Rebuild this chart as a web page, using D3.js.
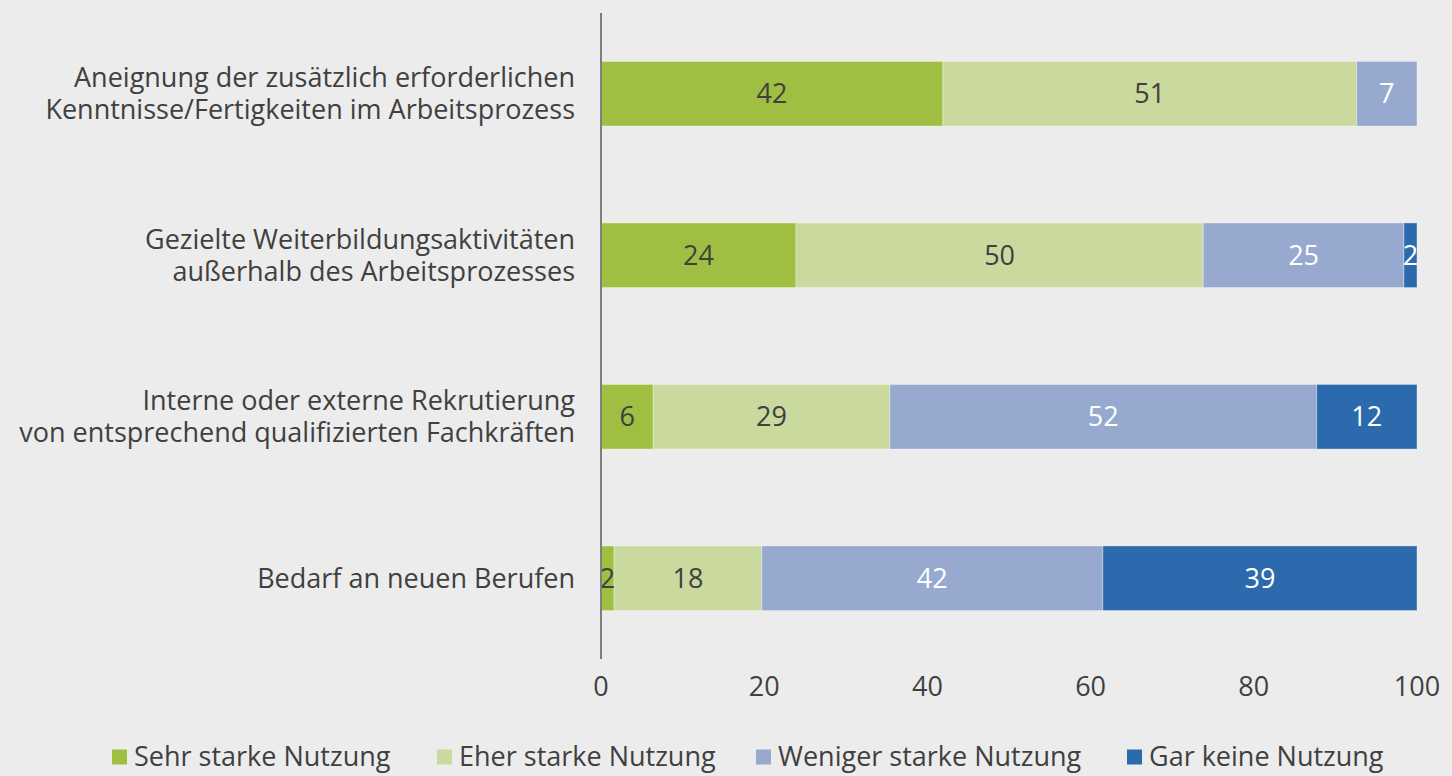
<!DOCTYPE html>
<html>
<head>
<meta charset="utf-8">
<script src="https://cdn.jsdelivr.net/npm/d3@7"></script>
<style>
  body { margin: 0; background: #ececec; }
  svg { display: block; font-family: "Open Sans", sans-serif; }
</style>
</head>
<body>
<script>
// categories (two lines each)
const categories = [
    ["Aneignung der zusätzlich erforderlichen", "Kenntnisse/Fertigkeiten im Arbeitsprozess"],
    ["Gezielte Weiterbildungsaktivitäten", "außerhalb des Arbeitsprozesses"],
    ["Interne oder externe Rekrutierung", "von entsprechend qualifizierten Fachkräften"],
    ["Bedarf an neuen Berufen"]
];

const seriesNames = ["Sehr starke Nutzung", "Eher starke Nutzung", "Weniger starke Nutzung", "Gar keine Nutzung"];
const seriesColors = ["#9fbf43", "#cad99d", "#97a9cf", "#2b6aad"];
const labelColors = ["#404040", "#404040", "#ffffff", "#ffffff"];

// values per series, one entry per category
const sehrStark   = [41.9, 23.9, 6.4, 1.6];
const eherStark   = [50.7, 49.9, 29.0, 18.1];
const wenigerStark = [7.4, 24.6, 52.3, 41.8];
const garKeine    = [0, 1.6, 12.3, 38.5];
const seriesValues = [sehrStark, eherStark, wenigerStark, garKeine];

const xTicks = [0, 20, 40, 60, 80, 100];

const width = 1452, height = 776;

const svg = d3.select("body").append("svg")
    .attr("width", width)
    .attr("height", height);

svg.append("rect").attr("width", width).attr("height", height).attr("fill", "#ececec");

const x = d3.scaleLinear().domain([0, 100]).range([601, 1417]);
const y = d3.scaleBand().domain(d3.range(categories.length)).range([13, 659]).paddingInner(0.6).paddingOuter(0.3);

// stacked rows
const rows = categories.map((c, i) => {
    const r = { idx: i };
    seriesNames.forEach((s, j) => r[s] = seriesValues[j][i]);
    return r;
});
const stack = d3.stack().keys(seriesNames)(rows);

const layers = svg.append("g")
    .selectAll("g")
    .data(stack)
    .join("g")
    .attr("fill", (d, i) => seriesColors[i]);

layers.selectAll("rect")
    .data(d => d.filter(p => p[1] - p[0] > 0))
    .join("rect")
    .attr("x", d => x(d[0]))
    .attr("y", d => y(d.data.idx))
    .attr("width", d => x(d[1]) - x(d[0]))
    .attr("height", y.bandwidth())
    .attr("stroke", "#ffffff")
    .attr("stroke-opacity", 0.35)
    .attr("stroke-width", 1);

// value labels
stack.forEach((layer, i) => {
    svg.append("g")
        .selectAll("text")
        .data(layer.filter(p => p[1] - p[0] > 0))
        .join("text")
        .attr("x", d => (x(d[0]) + x(d[1])) / 2)
        .attr("y", d => y(d.data.idx) + y.bandwidth() / 2)
        .attr("dy", "0.36em")
        .attr("text-anchor", "middle")
        .attr("fill", labelColors[i])
        .style("font-size", "27px")
        .text(d => Math.round(d[1] - d[0]));
});

// vertical axis line
svg.append("line")
    .attr("x1", x(0)).attr("x2", x(0))
    .attr("y1", 13).attr("y2", 659)
    .attr("stroke", "#7f7f7f")
    .attr("stroke-width", 2);

// category labels
const catG = svg.append("g")
    .selectAll("text")
    .data(categories)
    .join("text")
    .attr("text-anchor", "end")
    .attr("fill", "#404040")
    .style("font-size", "27px")
    .attr("transform", (d, i) => `translate(575, ${y(i) + y.bandwidth() / 2})`);

catG.selectAll("tspan")
    .data(d => d.map((t, k) => ({ t, k, n: d.length })))
    .join("tspan")
    .attr("x", 0)
    .attr("y", d => (d.k - (d.n - 1) / 2) * 32)
    .attr("dy", "0.35em")
    .text(d => d.t);

// x tick labels
svg.append("g")
    .selectAll("text")
    .data(xTicks)
    .join("text")
    .attr("x", d => x(d))
    .attr("y", 686)
    .attr("dy", "0.36em")
    .attr("text-anchor", "middle")
    .attr("fill", "#404040")
    .style("font-size", "27px")
    .text(d => d);

// legend
const legendX = [112, 437, 756, 1127];
const legend = svg.append("g")
    .selectAll("g")
    .data(seriesNames)
    .join("g")
    .attr("transform", (d, i) => `translate(${legendX[i]}, 757)`);

legend.append("rect")
    .attr("x", 0).attr("y", -7.5)
    .attr("width", 15).attr("height", 15)
    .attr("fill", (d, i) => seriesColors[i]);

legend.append("text")
    .attr("x", 22)
    .attr("dy", "0.35em")
    .attr("fill", "#404040")
    .style("font-size", "27px")
    .text(d => d);
</script>
</body>
</html>
